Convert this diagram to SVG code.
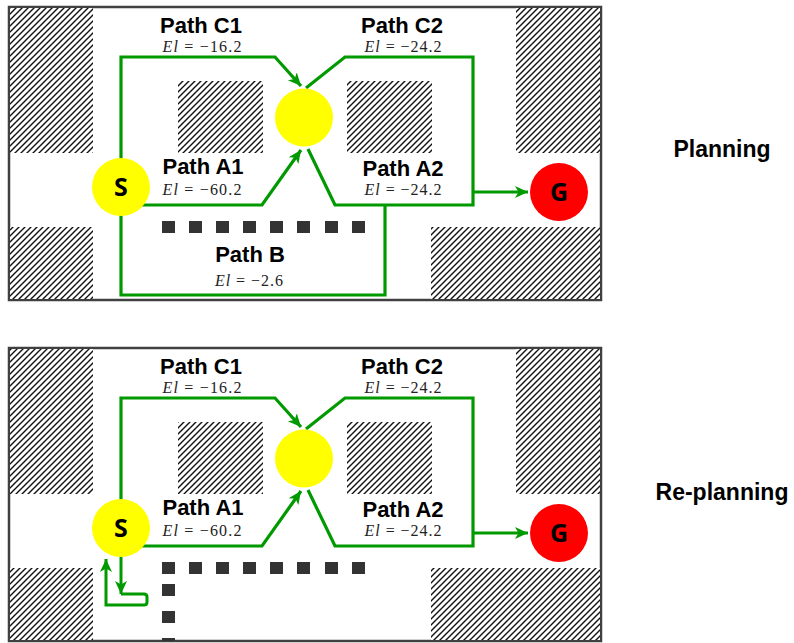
<svg xmlns="http://www.w3.org/2000/svg" width="794" height="643" viewBox="0 0 794 643">
<defs>
<pattern id="hatch" patternUnits="userSpaceOnUse" width="6" height="6">
<rect width="6" height="6" fill="#fff"/>
<path d="M-1,1 L1,-1 M0,6 L6,0 M5,7 L7,5" stroke="#111" stroke-width="1.4"/>
</pattern>
<marker id="arr" markerUnits="userSpaceOnUse" markerWidth="16" markerHeight="14" refX="13" refY="6" orient="auto">
<path d="M0,0 L13,6 L0,12 L3.5,6 z" fill="#009a00"/>
</marker>
<style>
.frame{fill:#fff;stroke:#404040;stroke-width:2.5}
.hatch{fill:url(#hatch)}
.path{fill:none;stroke:#009a00;stroke-width:3.2;stroke-linejoin:miter}
.sq{fill:#333}
.lbl{font-family:"Liberation Sans",Arial,sans-serif;font-weight:bold;font-size:22px;fill:#000;text-anchor:middle}
.el{font-family:"Liberation Serif","Times New Roman",serif;font-size:16px;fill:#222;text-anchor:middle}
.node{font-family:"Open Sans","Liberation Sans",sans-serif;font-weight:bold;font-size:25px;fill:#000;text-anchor:middle}
.title{font-family:"Liberation Sans",Arial,sans-serif;font-weight:bold;font-size:23px;fill:#000;text-anchor:middle}
</style>
</defs>

<g id="panel-planning">
<rect class="frame" x="9" y="7" width="592" height="293"/>
<rect class="hatch" x="10" y="8" width="83" height="145"/>
<rect class="hatch" x="178" y="81" width="85" height="72"/>
<rect class="hatch" x="347" y="81" width="85" height="72"/>
<rect class="hatch" x="516" y="8" width="84" height="145"/>
<rect class="hatch" x="10" y="227" width="83" height="72"/>
<rect class="hatch" x="431" y="227" width="169" height="72"/>
<g id="walls-top">
<rect class="sq" x="162" y="221" width="13" height="12"/>
<rect class="sq" x="189" y="221" width="13" height="12"/>
<rect class="sq" x="216" y="221" width="13" height="12"/>
<rect class="sq" x="243" y="221" width="13" height="12"/>
<rect class="sq" x="270" y="221" width="13" height="12"/>
<rect class="sq" x="297" y="221" width="13" height="12"/>
<rect class="sq" x="325" y="221" width="13" height="12"/>
<rect class="sq" x="352" y="221" width="13" height="12"/>
</g>
<g id="connectors-top">
<path class="path" d="M121,187 V57 H275 L301,86" marker-end="url(#arr)"/>
<path class="path" d="M306,88 L345,57 H473 V205 H335 L308,149"/>
<path class="path" d="M121,205 H262 L301,150" marker-end="url(#arr)"/>
<path class="path" d="M121,187 V295 H385 V205"/>
<path class="path" d="M473,192 H528" marker-end="url(#arr)"/>
</g>
<g id="node-S-top"><circle cx="121" cy="187" r="29" fill="#ffff00"/><text class="node" x="121" y="196">S</text></g>
<g id="node-mid-top"><circle cx="304" cy="117.5" r="29" fill="#ffff00"/></g>
<g id="node-G-top"><circle cx="559" cy="192" r="29" fill="#ff0000"/><text class="node" x="559" y="201">G</text></g>
<g id="labels-top">
<text class="lbl" x="201" y="33">Path C1</text>
<text class="el" x="202" y="52" textLength="79" lengthAdjust="spacing"><tspan font-style="italic">El</tspan> = −16.2</text>
<text class="lbl" x="402" y="33">Path C2</text>
<text class="el" x="403" y="52" textLength="77" lengthAdjust="spacing"><tspan font-style="italic">El</tspan> = −24.2</text>
<text class="lbl" x="203" y="174">Path A1</text>
<text class="el" x="202" y="195" textLength="79" lengthAdjust="spacing"><tspan font-style="italic">El</tspan> = −60.2</text>
<text class="lbl" x="403" y="176">Path A2</text>
<text class="el" x="403" y="195" textLength="77" lengthAdjust="spacing"><tspan font-style="italic">El</tspan> = −24.2</text>
<text class="lbl" x="250" y="262">Path B</text>
<text class="el" x="249" y="286" textLength="68" lengthAdjust="spacing"><tspan font-style="italic">El</tspan> = −2.6</text>
</g>
<text class="title" x="722" y="157">Planning</text>
</g>

<g id="panel-replanning">
<rect class="frame" x="9" y="348" width="592" height="293"/>
<rect class="hatch" x="10" y="349" width="83" height="145"/>
<rect class="hatch" x="178" y="422" width="85" height="72"/>
<rect class="hatch" x="347" y="422" width="85" height="72"/>
<rect class="hatch" x="516" y="349" width="84" height="145"/>
<rect class="hatch" x="10" y="568" width="83" height="72"/>
<rect class="hatch" x="431" y="568" width="169" height="72"/>
<g id="walls-bottom">
<rect class="sq" x="162" y="562" width="13" height="12"/>
<rect class="sq" x="189" y="562" width="13" height="12"/>
<rect class="sq" x="216" y="562" width="13" height="12"/>
<rect class="sq" x="243" y="562" width="13" height="12"/>
<rect class="sq" x="270" y="562" width="13" height="12"/>
<rect class="sq" x="297" y="562" width="13" height="12"/>
<rect class="sq" x="325" y="562" width="13" height="12"/>
<rect class="sq" x="352" y="562" width="13" height="12"/>
<rect class="sq" x="162" y="584" width="13" height="12"/>
<rect class="sq" x="162" y="611" width="13" height="12"/>
<rect class="sq" x="162" y="638" width="13" height="3"/>
</g>
<g id="connectors-bottom">
<path class="path" d="M121,528 V398 H275 L301,427" marker-end="url(#arr)"/>
<path class="path" d="M306,429 L345,398 H473 V546 H335 L308,490"/>
<path class="path" d="M121,546 H262 L301,491" marker-end="url(#arr)"/>
<path class="path" d="M473,533 H528" marker-end="url(#arr)"/>
<path class="path" d="M121,557 V594" marker-end="url(#arr)" style="stroke-width:3"/>
<path class="path" d="M121,594 H144 Q147,594 147,597 V602 Q147,605 144,605 H106 V559" marker-end="url(#arr)" style="stroke-width:3"/>
</g>
<g id="node-S-bottom"><circle cx="121" cy="528" r="29" fill="#ffff00"/><text class="node" x="121" y="537">S</text></g>
<g id="node-mid-bottom"><circle cx="304" cy="458.5" r="29" fill="#ffff00"/></g>
<g id="node-G-bottom"><circle cx="559" cy="533" r="29" fill="#ff0000"/><text class="node" x="559" y="542">G</text></g>
<g id="labels-bottom">
<text class="lbl" x="201" y="374">Path C1</text>
<text class="el" x="202" y="393" textLength="79" lengthAdjust="spacing"><tspan font-style="italic">El</tspan> = −16.2</text>
<text class="lbl" x="402" y="374">Path C2</text>
<text class="el" x="403" y="393" textLength="77" lengthAdjust="spacing"><tspan font-style="italic">El</tspan> = −24.2</text>
<text class="lbl" x="203" y="515">Path A1</text>
<text class="el" x="202" y="536" textLength="79" lengthAdjust="spacing"><tspan font-style="italic">El</tspan> = −60.2</text>
<text class="lbl" x="403" y="517">Path A2</text>
<text class="el" x="403" y="536" textLength="77" lengthAdjust="spacing"><tspan font-style="italic">El</tspan> = −24.2</text>
</g>
<text class="title" x="722" y="500">Re-planning</text>
</g>
</svg>
